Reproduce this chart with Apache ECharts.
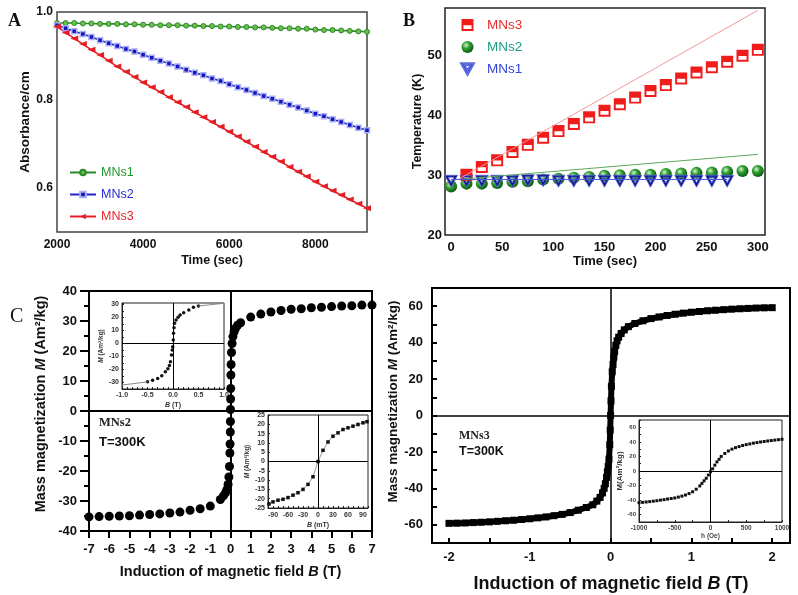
<!DOCTYPE html>
<html lang="en">
<head>
    <meta charset="UTF-8">
    <title>MNs absorbance, heating and magnetization</title>
    <script src="https://cdn.jsdelivr.net/npm/echarts@6.0.0/dist/echarts.min.js"></script>
    <style>
        body { margin: 0; padding: 0; background: #fff; overflow: hidden; }
        #chart { width: 798px; height: 595px; }
    </style>
</head>
<body>
<div id="chart"></div>
<script>
    // ---- panel A : absorbance vs time
    const aTime = [2000, 2200, 2400, 2600, 2800, 3000, 3200, 3400, 3600, 3800, 4000, 4200, 4400, 4600, 4800, 5000, 5200, 5400, 5600, 5800,
        6000, 6200, 6400, 6600, 6800, 7000, 7200, 7400, 7600, 7800, 8000, 8200, 8400, 8600, 8800, 9000, 9200];
    const aMNs1 = [0.975, 0.975, 0.975, 0.974, 0.974, 0.973, 0.973, 0.973, 0.972, 0.972, 0.971, 0.971, 0.970, 0.970, 0.970, 0.969, 0.969, 0.968, 0.968, 0.967,
        0.967, 0.966, 0.966, 0.965, 0.965, 0.964, 0.963, 0.963, 0.962, 0.962, 0.960, 0.959, 0.959, 0.958, 0.957, 0.956, 0.955];
    const aMNs2 = [0.970, 0.963, 0.956, 0.950, 0.943, 0.936, 0.929, 0.923, 0.916, 0.910, 0.903, 0.896, 0.889, 0.883, 0.876, 0.869, 0.862, 0.856, 0.849, 0.843,
        0.836, 0.829, 0.823, 0.816, 0.809, 0.803, 0.796, 0.789, 0.783, 0.776, 0.769, 0.763, 0.756, 0.750, 0.743, 0.737, 0.731];
    const aMNs3 = [0.967, 0.953, 0.940, 0.927, 0.914, 0.902, 0.889, 0.876, 0.864, 0.852, 0.840, 0.829, 0.818, 0.806, 0.795, 0.784, 0.772, 0.761, 0.750, 0.739,
        0.728, 0.717, 0.705, 0.694, 0.682, 0.671, 0.660, 0.648, 0.637, 0.626, 0.614, 0.604, 0.594, 0.584, 0.574, 0.564, 0.554];
    const aTicksX = [2000, 4000, 6000, 8000];
    const aTicksY = [0.6, 0.8, 1.0];

    // ---- panel B : temperature vs time
    const bTime3 = [15, 30, 45, 60, 75, 90, 105, 120, 135, 150, 165, 180, 195, 210, 225, 240, 255, 270, 285, 300];
    const bMNs3 = [30.1, 31.4, 32.5, 33.9, 35.1, 36.3, 37.4, 38.6, 39.7, 40.8, 41.9, 43.0, 44.1, 45.1, 46.2, 47.2, 48.1, 49.0, 50.0, 51.0];
    const bTime2 = [0, 15, 30, 45, 60, 75, 90, 105, 120, 135, 150, 165, 180, 195, 210, 225, 240, 255, 270, 285, 300];
    const bMNs2 = [28.1, 28.6, 28.6, 28.7, 28.9, 29.0, 29.3, 29.4, 29.6, 29.7, 29.9, 30.0, 30.1, 30.1, 30.2, 30.3, 30.4, 30.45, 30.6, 30.7, 30.7];
    const bTime1 = [0, 15, 30, 45, 60, 75, 90, 105, 120, 135, 150, 165, 180, 195, 210, 225, 240, 255, 270];
    const bMNs1 = [29.0, 29.0, 29.0, 29.0, 29.0, 29.1, 29.1, 29.0, 29.0, 29.0, 29.0, 29.0, 29.0, 29.0, 29.0, 29.0, 29.0, 29.0, 29.0];
    const bFit3 = [[10, 29.6], [300, 57.6]];
    const bFit2 = [[0, 29.2], [300, 33.5]];
    const bFit1 = [[0, 29.3], [270, 29.3]];
    const bTicksX = [0, 50, 100, 150, 200, 250, 300];
    const bTicksY = [20, 30, 40, 50];

    // ---- panel C left : MNs2 magnetization (T)
    const c1B = [-7, -6.5, -6, -5.5, -5, -4.5, -4, -3.5, -3, -2.5, -2, -1.5, -1, -0.5,
        -0.35, -0.25, -0.18, -0.12, -0.08, -0.05, -0.03, -0.02, -0.01, -0.005, 0,
        0.005, 0.01, 0.02, 0.03, 0.05, 0.08, 0.12, 0.18, 0.25, 0.35,
        0.5, 1, 1.5, 2, 2.5, 3, 3.5, 4, 4.5, 5, 5.5, 6, 6.5, 7];
    const c1M = [-35.3, -35.2, -35.1, -35.0, -34.9, -34.7, -34.5, -34.3, -34.0, -33.7, -33.1, -32.6, -31.7, -29.5,
        -28.3, -27.3, -26.2, -24.5, -22.0, -18.5, -14.0, -11.0, -7.0, -3.5, 0.5,
        4.0, 7.5, 12.0, 15.5, 19.5, 22.5, 24.8, 26.4, 27.6, 28.6,
        29.4, 31.3, 32.3, 33.0, 33.5, 33.9, 34.1, 34.4, 34.6, 34.8, 35.0, 35.1, 35.3, 35.3];
    // inset: -1..1 T
    const in1B = [-0.5, -0.4, -0.3, -0.22, -0.15, -0.1, -0.07, -0.05, -0.03, -0.015, -0.005, 0.005, 0.01, 0.02, 0.03, 0.06, 0.1, 0.14, 0.21, 0.31, 0.4, 0.5];
    const in1M = [-29.5, -28.2, -26.9, -24.9, -21.8, -19.5, -17, -14, -9, -5, -2.6, 2.6, 7.7, 12, 15.4, 18, 20, 21.8, 23.6, 25.6, 27.7, 28.7];
    const in1FitLo = [[-1, -32], [-0.5, -29.5]];
    const in1FitHi = [[0.5, 28.7], [1, 30.8]];
    const in1TicksX = [-1, -0.5, 0, 0.5, 1];
    const in1TicksY = [-30, -20, -10, 0, 10, 20, 30];
    // inset: -100..100 mT
    const in2B = [-98, -90, -80, -70, -60, -50, -40, -30, -20, -10, 0, 10, 20, 30, 40, 50, 60, 70, 80, 90, 98];
    const in2M = [-22.8, -21.7, -20.8, -20.3, -19.4, -18.1, -16.8, -15.0, -12.3, -8.2, 0, 6.0, 10.5, 13.6, 15.4, 17.2, 18.1, 19.0, 19.9, 20.8, 21.4];
    const in2TicksX = [-90, -60, -30, 0, 30, 60, 90];

    // ---- panel C right : MNs3 magnetization (T)
    const c2B = [-2, -1.9, -1.8, -1.7, -1.6, -1.5, -1.4, -1.3, -1.2, -1.1, -1, -0.9, -0.8, -0.7, -0.6, -0.5, -0.4, -0.3,
        -0.22, -0.17, -0.13, -0.1, -0.08, -0.065, -0.05, -0.04, -0.03, -0.02, -0.01, -0.005, 0,
        0.005, 0.01, 0.02, 0.03, 0.04, 0.05, 0.065, 0.08, 0.1, 0.13, 0.17, 0.22,
        0.3, 0.4, 0.5, 0.6, 0.7, 0.8, 0.9, 1, 1.1, 1.2, 1.3, 1.4, 1.5, 1.6, 1.7, 1.8, 1.9, 2];
    const c2M = [-59.2, -59.1, -59.0, -58.8, -58.6, -58.4, -58.1, -57.8, -57.5, -57.1, -56.7, -56.2, -55.7, -55.0, -54.3, -53.3, -52.0, -50.5,
        -49.0, -47.0, -45.0, -42.5, -40.0, -37.5, -34.0, -31.0, -28.0, -24.0, -16.0, -8.0, 0,
        8.0, 16.0, 24.0, 28.0, 32.0, 35.0, 38.5, 41.0, 43.0, 45.0, 47.0, 48.8,
        50.5, 52.0, 53.2, 54.1, 54.9, 55.6, 56.2, 56.7, 57.1, 57.5, 57.8, 58.1, 58.4, 58.6, 58.8, 59.0, 59.1, 59.2];
    const c2TicksX = [-2, -1, 0, 1, 2];
    const c2MinorX = [-2, -1.5, -1, -0.5, 0, 0.5, 1, 1.5, 2];
    const c2TicksY = [-60, -40, -20, 0, 20, 40, 60];
    // inset: -1000..1000 Oe
    const in3H = [-1000, -950, -900, -850, -800, -750, -700, -650, -600, -550, -500, -450, -400, -350, -300, -250, -200, -150,
        -120, -90, -60, -30, 0, 30, 60, 90, 120, 150,
        200, 250, 300, 350, 400, 450, 500, 550, 600, 650, 700, 750, 800, 850, 900, 950, 1000];
    const in3M = [-43.5, -43.0, -42.5, -42.0, -41.4, -40.8, -40.0, -39.3, -38.5, -37.8, -37.0, -35.8, -34.5, -33.0, -31.0, -28.5, -25.0, -20.5,
        -17.0, -13.5, -10.0, -5.5, -1.0, 3.0, 8.0, 12.5, 16.0, 20.0,
        24.0, 27.5, 30.0, 32.0, 33.5, 35.0, 36.2, 37.2, 38.2, 39.0, 39.8, 40.5, 41.2, 41.8, 42.4, 43.0, 43.5];
    const in3TicksX = [-1000, -500, 0, 500, 1000];

    const zip = (xs, ys) => xs.map((x, i) => [x, ys[i]]);
    const plain = v => String(v);
    const FONT = "'Liberation Sans', Arial, sans-serif";
    const SERIF = "'Liberation Serif', 'Times New Roman', serif";

    const halfSquare = 'path://M0,0H10V10H0ZM1.6,5.2V8.4H8.4V5.2Z';
    const openTri = 'path://M0,0H10L5,9ZM2.8,1.5L5,5.6L7.2,1.5Z';
    const sphere = {
        type: 'radial', x: 0.38, y: 0.35, r: 0.65,
        colorStops: [{offset: 0, color: '#d6f5cf'}, {offset: 0.45, color: '#2f9f2f'}, {offset: 1, color: '#0b5c12'}]
    };

    const boldLbl = (size, extra) => Object.assign({fontFamily: FONT, fontWeight: 'bold', fontSize: size, color: '#111'}, extra || {});
    const cross = (w) => ({
        silent: true, symbol: ['none', 'none'], label: {show: false},
        lineStyle: {color: '#000', width: w, type: 'solid'}, emphasis: {disabled: true},
        data: [{xAxis: 0}, {yAxis: 0}]
    });

    const chart = echarts.init(document.getElementById('chart'), null, {renderer: 'canvas'});

    const option = {
        animation: false,
        backgroundColor: '#fff',
        textStyle: {fontFamily: FONT},
        grid: [
            {left: 57, top: 12, width: 310, height: 220, show: true, borderColor: '#444', borderWidth: 1.5},
            {left: 445, top: 8, width: 320, height: 227, show: true, borderColor: '#222', borderWidth: 1.5},
            {left: 89, top: 291, width: 283, height: 240, show: true, borderColor: '#000', borderWidth: 2},
            {left: 122, top: 303, width: 102, height: 86, show: true, borderColor: '#222', borderWidth: 1, backgroundColor: '#fff'},
            {left: 268, top: 415, width: 100, height: 93, show: true, borderColor: '#222', borderWidth: 1, backgroundColor: '#fff'},
            {left: 432, top: 288, width: 358, height: 255, show: true, borderColor: '#000', borderWidth: 2},
            {left: 639, top: 420, width: 143, height: 102, show: true, borderColor: '#222', borderWidth: 1, backgroundColor: '#fff'}
        ],
        xAxis: [
            {gridIndex: 0, type: 'value', min: 2000, max: 9200, axisLine: {show: false}, axisTick: {show: false}, splitLine: {show: false},
                axisLabel: boldLbl(12, {customValues: aTicksX, formatter: plain, margin: 7}),
                name: 'Time (sec)', nameLocation: 'middle', nameGap: 22, nameTextStyle: boldLbl(12.5)},
            {gridIndex: 1, type: 'value', min: -6, max: 307, axisLine: {show: false}, axisTick: {show: false}, splitLine: {show: false},
                axisLabel: boldLbl(13, {customValues: bTicksX, margin: 6}),
                name: 'Time (sec)', nameLocation: 'middle', nameGap: 20, nameTextStyle: boldLbl(13)},
            {gridIndex: 2, type: 'value', min: -7, max: 7, interval: 1, splitLine: {show: false},
                axisLine: {onZero: false, lineStyle: {color: '#000', width: 2}},
                axisTick: {length: 7, lineStyle: {color: '#000', width: 2}},
                axisLabel: boldLbl(13, {margin: 12}),
                name: 'Induction of magnetic field {i|B} (T)', nameLocation: 'middle', nameGap: 33,
                nameTextStyle: boldLbl(14.5, {rich: {i: boldLbl(14.5, {fontStyle: 'italic'})}})},
            {gridIndex: 3, type: 'value', min: -1, max: 1, interval: 0.1, splitLine: {show: false},
                axisLine: {onZero: false, lineStyle: {color: '#222', width: 1}},
                axisTick: {inside: true, length: 2, lineStyle: {color: '#222'}},
                axisLabel: boldLbl(7, {customValues: in1TicksX, formatter: v => v.toFixed(1), margin: 3, color: '#333'}),
                name: '{i|B} (T)', nameLocation: 'middle', nameGap: 13,
                nameTextStyle: boldLbl(7, {color: '#333', rich: {i: boldLbl(7, {fontStyle: 'italic', color: '#333'})}})},
            {gridIndex: 4, type: 'value', min: -100, max: 100, interval: 10, splitLine: {show: false},
                axisLine: {onZero: false, lineStyle: {color: '#222', width: 1}},
                axisTick: {inside: true, length: 2, lineStyle: {color: '#222'}},
                axisLabel: boldLbl(7, {customValues: in2TicksX, margin: 4, color: '#333'}),
                name: '{i|B} (mT)', nameLocation: 'middle', nameGap: 14,
                nameTextStyle: boldLbl(7, {color: '#333', rich: {i: boldLbl(7, {fontStyle: 'italic', color: '#333'})}})},
            {gridIndex: 5, type: 'value', min: -2.21, max: 2.22, splitLine: {show: false},
                axisLine: {onZero: false, lineStyle: {color: '#000', width: 2}},
                axisTick: {inside: true, length: 5, customValues: c2MinorX, lineStyle: {color: '#000', width: 2}},
                axisLabel: boldLbl(13, {customValues: c2TicksX, margin: 8}),
                name: 'Induction of magnetic field {i|B} (T)', nameLocation: 'middle', nameGap: 32,
                nameTextStyle: boldLbl(18, {rich: {i: boldLbl(18, {fontStyle: 'italic'})}})},
            {gridIndex: 6, type: 'value', min: -1000, max: 1000, interval: 250, splitLine: {show: false},
                axisLine: {onZero: false, lineStyle: {color: '#222', width: 1}},
                axisTick: {inside: true, length: 2, lineStyle: {color: '#222'}},
                axisLabel: boldLbl(6.5, {customValues: in3TicksX, formatter: plain, margin: 3, color: '#444'}),
                name: 'h (Oe)', nameLocation: 'middle', nameGap: 11, nameTextStyle: boldLbl(6.5, {color: '#444'})}
        ],
        yAxis: [
            {gridIndex: 0, type: 'value', min: 0.5, max: 1.0, axisLine: {show: false}, axisTick: {show: false}, splitLine: {show: false},
                axisLabel: boldLbl(12, {customValues: aTicksY, formatter: v => v.toFixed(1), margin: 4}),
                name: 'Absorbance/cm', nameLocation: 'middle', nameGap: 18, nameTextStyle: boldLbl(13.5)},
            {gridIndex: 1, type: 'value', min: 20, max: 58, axisLine: {show: false}, axisTick: {show: false}, splitLine: {show: false},
                axisLabel: boldLbl(13, {customValues: bTicksY, margin: 3}),
                name: 'Temperature (K)', nameLocation: 'middle', nameGap: 12, nameTextStyle: boldLbl(12.5)},
            {gridIndex: 2, type: 'value', min: -40, max: 40, interval: 10, splitLine: {show: false},
                axisLine: {onZero: false, lineStyle: {color: '#000', width: 2}},
                axisTick: {length: 9, lineStyle: {color: '#000', width: 2}},
                minorTick: {show: true, splitNumber: 2, length: 5, lineStyle: {color: '#000', width: 2}},
                axisLabel: boldLbl(13, {margin: 12}),
                name: 'Mass magnetization {i|M} (Am²/kg)', nameLocation: 'middle', nameGap: 41,
                nameTextStyle: boldLbl(14.5, {padding: [0, 0, 0, 14], rich: {i: boldLbl(14.5, {fontStyle: 'italic'})}})},
            {gridIndex: 3, type: 'value', min: -35, max: 31, interval: 5, splitLine: {show: false},
                axisLine: {onZero: false, lineStyle: {color: '#222', width: 1}},
                axisTick: {inside: true, length: 2, lineStyle: {color: '#222'}},
                axisLabel: boldLbl(7, {customValues: in1TicksY, margin: 3, color: '#333'}),
                name: '{i|M} (Am²/kg)', nameLocation: 'middle', nameGap: 16,
                nameTextStyle: boldLbl(6.5, {color: '#333', rich: {i: boldLbl(6.5, {fontStyle: 'italic', color: '#333'})}})},
            {gridIndex: 4, type: 'value', min: -25, max: 25, interval: 5, splitLine: {show: false},
                axisLine: {onZero: false, lineStyle: {color: '#222', width: 1}},
                axisTick: {inside: true, length: 2, lineStyle: {color: '#222'}},
                axisLabel: boldLbl(7, {margin: 3, color: '#333'}),
                name: '{i|M} (Am²/kg)', nameLocation: 'middle', nameGap: 15,
                nameTextStyle: boldLbl(6.5, {color: '#333', rich: {i: boldLbl(6.5, {fontStyle: 'italic', color: '#333'})}})},
            {gridIndex: 5, type: 'value', min: -70, max: 70, interval: 10, splitLine: {show: false},
                axisLine: {onZero: false, lineStyle: {color: '#000', width: 2}},
                axisTick: {inside: true, length: 5, lineStyle: {color: '#000', width: 2}},
                axisLabel: boldLbl(13, {customValues: c2TicksY, margin: 9}),
                name: 'Mass magnetization {i|M} (Am²/kg)', nameLocation: 'middle', nameGap: 30,
                nameTextStyle: boldLbl(13.5, {padding: [0, 0, 0, 28], rich: {i: boldLbl(13.5, {fontStyle: 'italic'})}})},
            {gridIndex: 6, type: 'value', min: -70, max: 70, interval: 10, splitLine: {show: false},
                axisLine: {onZero: false, lineStyle: {color: '#222', width: 1}},
                axisTick: {inside: true, length: 2, lineStyle: {color: '#222'}},
                axisLabel: boldLbl(6, {customValues: c2TicksY, margin: 3, color: '#444'}),
                name: 'M(Am²/kg)', nameLocation: 'middle', nameGap: 13, nameTextStyle: boldLbl(8, {color: '#333'})}
        ],
        legend: [
            {
                left: 64, top: 161, orient: 'vertical', itemWidth: 26, itemHeight: 7, itemGap: 9,
                textStyle: {fontFamily: FONT, fontSize: 12.5},
                data: [
                    {name: 'MNs1', textStyle: {color: '#1f9a2a'}},
                    {name: 'MNs2', textStyle: {color: '#2a2ad6'}},
                    {name: 'MNs3', textStyle: {color: '#e8282e'}}
                ]
            },
            {
                left: 455, top: 13, orient: 'vertical', itemWidth: 13, itemHeight: 12, itemGap: 8,
                textStyle: {fontFamily: FONT, fontSize: 13.5, padding: [0, 0, 0, 8]},
                formatter: n => n.replace('B-', ''),
                data: [
                    {name: 'B-MNs3', textStyle: {color: '#ec2e2e'}},
                    {name: 'B-MNs2', textStyle: {color: '#1c9c86'}},
                    {name: 'B-MNs1', textStyle: {color: '#3344d8'}}
                ]
            }
        ],
        series: [
            // A
            {name: 'MNs1', type: 'line', xAxisIndex: 0, yAxisIndex: 0, data: zip(aTime, aMNs1),
                symbol: 'circle', symbolSize: 5, lineStyle: {color: '#2a8a2a', width: 1.6},
                itemStyle: {color: '#6cbf4a', borderColor: '#2a8a2a', borderWidth: 1}},
            {name: 'MNs2', type: 'line', xAxisIndex: 0, yAxisIndex: 0, data: zip(aTime, aMNs2),
                symbol: 'rect', symbolSize: 5, lineStyle: {color: '#2222c8', width: 1.6},
                itemStyle: {color: '#1515c0', borderColor: '#a9b0f4', borderWidth: 1.5}},
            {name: 'MNs3', type: 'line', xAxisIndex: 0, yAxisIndex: 0, data: zip(aTime, aMNs3),
                symbol: 'triangle', symbolRotate: 90, symbolSize: [6, 8], lineStyle: {color: '#e41e24', width: 1.6},
                itemStyle: {color: '#e41e24'}},
            // B fits
            {type: 'line', xAxisIndex: 1, yAxisIndex: 1, data: bFit3, symbol: 'none', silent: true, lineStyle: {color: '#f29a9a', width: 1}},
            {type: 'line', xAxisIndex: 1, yAxisIndex: 1, data: bFit2, symbol: 'none', silent: true, lineStyle: {color: '#5aaa5a', width: 1}},
            {type: 'line', xAxisIndex: 1, yAxisIndex: 1, data: bFit1, symbol: 'none', silent: true, lineStyle: {color: '#4a55d8', width: 1}},
            // B points
            {name: 'B-MNs2', type: 'scatter', xAxisIndex: 1, yAxisIndex: 1, data: zip(bTime2, bMNs2),
                symbol: 'circle', symbolSize: 12, itemStyle: {color: sphere, opacity: 1}},
            {name: 'B-MNs1', type: 'scatter', xAxisIndex: 1, yAxisIndex: 1, data: zip(bTime1, bMNs1),
                symbol: openTri, symbolSize: [13, 12], itemStyle: {color: '#14188c', borderColor: '#5c6ae0', borderWidth: 0.8, opacity: 1}},
            {name: 'B-MNs3', type: 'scatter', xAxisIndex: 1, yAxisIndex: 1, data: zip(bTime3, bMNs3),
                symbol: halfSquare, symbolSize: 12, itemStyle: {color: '#f01c1c', opacity: 1}},
            // C left
            {type: 'scatter', xAxisIndex: 2, yAxisIndex: 2, data: zip(c1B, c1M), symbol: 'circle', symbolSize: 9,
                itemStyle: {color: '#000', opacity: 1}, markLine: cross(2), z: 3},
            {type: 'line', xAxisIndex: 3, yAxisIndex: 3, data: in1FitLo, symbol: 'none', silent: true, lineStyle: {color: '#888', width: 1}},
            {type: 'line', xAxisIndex: 3, yAxisIndex: 3, data: in1FitHi, symbol: 'none', silent: true, lineStyle: {color: '#888', width: 1}},
            {type: 'scatter', xAxisIndex: 3, yAxisIndex: 3, data: zip(in1B, in1M), symbol: 'circle', symbolSize: 3.5,
                itemStyle: {color: '#111', opacity: 1}, markLine: cross(1)},
            {type: 'line', xAxisIndex: 4, yAxisIndex: 4, data: zip(in2B, in2M), symbol: 'rect', symbolSize: 3.5,
                lineStyle: {color: '#999', width: 1}, itemStyle: {color: '#111'}, markLine: cross(1)},
            // C right
            {type: 'line', xAxisIndex: 5, yAxisIndex: 5, data: zip(c2B, c2M), symbol: 'rect', symbolSize: 7,
                lineStyle: {color: '#000', width: 6}, itemStyle: {color: '#000'}, markLine: cross(1.5), z: 3},
            {type: 'scatter', xAxisIndex: 6, yAxisIndex: 6, data: zip(in3H, in3M), symbol: 'rect', symbolSize: 3,
                itemStyle: {color: '#111', opacity: 1}, markLine: cross(1)}
        ],
        graphic: [
            {type: 'text', left: 8, top: 12, style: {text: 'A', font: 'bold 18px ' + SERIF, fill: '#111'}},
            {type: 'text', left: 403, top: 12, style: {text: 'B', font: 'bold 18px ' + SERIF, fill: '#111'}},
            {type: 'text', left: 10, top: 307, style: {text: 'C', font: '20px ' + SERIF, fill: '#111'}},
            {type: 'text', left: 99, top: 416, style: {text: 'MNs2', font: 'bold 12.5px ' + SERIF, fill: '#222'}},
            {type: 'text', left: 99, top: 436, style: {text: 'T=300K', font: 'bold 13px ' + FONT, fill: '#111'}},
            {type: 'text', left: 459, top: 430, style: {text: 'MNs3', font: 'bold 12px ' + SERIF, fill: '#222'}},
            {type: 'text', left: 459, top: 445, style: {text: 'T=300K', font: 'bold 12.5px ' + FONT, fill: '#111'}}
        ]
    };

    chart.setOption(option);
    window.onresize = function () {
        chart.resize();
    };
</script>
</body>
</html>
